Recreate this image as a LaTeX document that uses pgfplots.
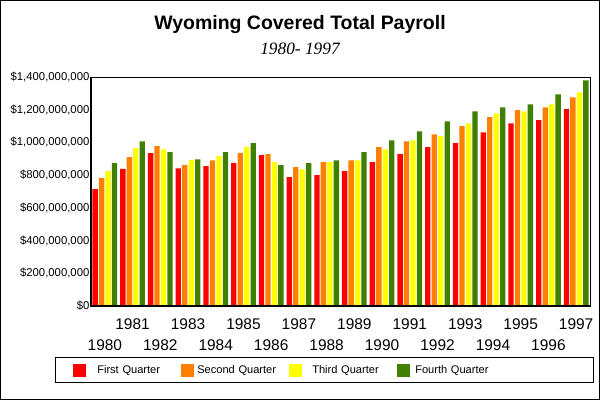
\documentclass[border=0pt]{standalone}
\usepackage{pgfplots}
\usepackage{pgfplotstable}
\pgfplotsset{compat=1.18}
\usepackage{fontspec}
\setmainfont{Liberation Sans}
\newfontfamily\timesfont{Liberation Serif}
\definecolor{qone}{HTML}{FF0000}
\definecolor{qtwo}{HTML}{FF8000}
\definecolor{qthree}{HTML}{FFFF00}
\definecolor{qfour}{HTML}{408000}
\pgfplotstableread{
x year q1 q2 q3 q4
0 1980 714 784 824 873
1 1981 838 910 965 1007
2 1982 934 977 958 940
3 1983 842 861 893 897
4 1984 855 891 916 940
5 1985 873 934 971 995
6 1986 922 928 879 861
7 1987 788 849 836 873
8 1988 800 879 879 891
9 1989 824 891 891 940
10 1990 879 971 958 1013
11 1991 928 1007 1013 1068
12 1992 971 1050 1038 1129
13 1993 995 1099 1117 1190
14 1994 1062 1154 1178 1215
15 1995 1117 1197 1190 1233
16 1996 1136 1215 1233 1294
17 1997 1203 1276 1306 1380
}\payroll
\begin{document}
\begin{tikzpicture}
\useasboundingbox (0,0) rectangle (450pt,300pt);
\draw[line width=0.75pt] (0.375pt,0.375pt) rectangle (449.625pt,299.625pt);
\node[font=\fontsize{14.6}{16}\selectfont\bfseries] at (225pt,281.25pt) {Wyoming Covered Total Payroll};
\node[font=\fontsize{13}{15}\selectfont\timesfont\itshape] at (225pt,263.25pt) {1980- 1997};
\draw[line width=0.75pt] (41.25pt,12.75pt) rectangle (444.75pt,31.5pt);
\begin{axis}[
  scale only axis,
  at={(68.25pt,70.5pt)}, anchor=south west,
  width=374.25pt, height=171.75pt,
  xmin=-0.5, xmax=17.5, ymin=0, ymax=1400,
  ybar=0.85pt, bar width=4pt,
  axis line style={line width=0.75pt},
  major tick length=0pt,
  ytick={0,200,...,1400},
  yticklabels={{\$0},{\$200,000,000},{\$400,000,000},{\$600,000,000},{\$800,000,000},{\$1,000,000,000},{\$1,200,000,000},{\$1,400,000,000}},
  yticklabel style={font=\fontsize{8.5}{10}\selectfont, inner xsep=1pt},
  xtick={0,...,17},
  xticklabels={1980,\raisebox{16.1pt}{1981},1982,\raisebox{16.1pt}{1983},1984,\raisebox{16.1pt}{1985},1986,\raisebox{16.1pt}{1987},1988,\raisebox{16.1pt}{1989},1990,\raisebox{16.1pt}{1991},1992,\raisebox{16.1pt}{1993},1994,\raisebox{16.1pt}{1995},1996,\raisebox{16.1pt}{1997}},
  xticklabel style={font=\fontsize{11.6}{13}\selectfont, anchor=base, yshift=-33.4pt},
  legend columns=4,
  legend style={at={(-0.036,-0.2817)}, anchor=west, draw=none, fill=none, inner sep=0pt,
    font=\fontsize{8.3}{10}\selectfont,
    nodes={inner sep=0pt, text width=63pt, align=left},
    /tikz/every odd column/.append style={column sep=8.25pt}},
  qleg/.style={legend image code/.code={\fill[##1] (0pt,-4.875pt) rectangle (9.75pt,4.875pt);}},
]
\addplot[fill=qone, draw=none, qleg] table[x=x, y=q1] {\payroll};
\addplot[fill=qtwo, draw=none, qleg] table[x=x, y=q2] {\payroll};
\addplot[fill=qthree, draw=none, qleg] table[x=x, y=q3] {\payroll};
\addplot[fill=qfour, draw=none, qleg] table[x=x, y=q4] {\payroll};
\legend{First Quarter, \hspace*{-6pt}Second Quarter, \hspace*{-0.75pt}Third Quarter, \hspace*{-4.5pt}Fourth Quarter}
\draw[line width=1.8pt] (rel axis cs:0,0) -- (rel axis cs:0,1);
\draw[line width=1.8pt] (rel axis cs:0,0) -- (rel axis cs:1,0);
\end{axis}
\end{tikzpicture}
\end{document}
